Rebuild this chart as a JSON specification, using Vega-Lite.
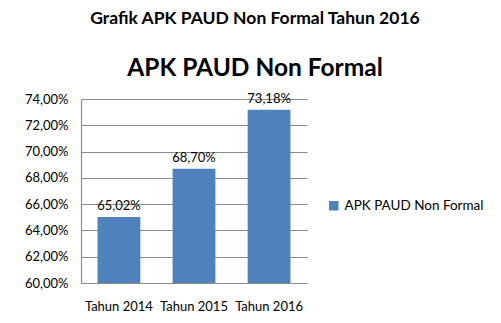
{
  "$schema": "https://vega.github.io/schema/vega-lite/v6.json",
  "autosize": {"type": "none"},
  "width": 226,
  "height": 184,
  "padding": {"left": 81, "top": 99, "right": 194, "bottom": 40},
  "background": "white",
  "title": {
    "text": "Grafik APK PAUD Non Formal Tahun 2016",
    "subtitle": "APK PAUD Non Formal",
    "anchor": "middle",
    "frame": "group",
    "dx": 61,
    "offset": 12,
    "font": "Lato",
    "fontSize": 17.5,
    "fontWeight": "bold",
    "color": "#000000",
    "subtitleFont": "Lato",
    "subtitleFontSize": 24.5,
    "subtitleFontWeight": "bold",
    "subtitleColor": "#000000",
    "subtitlePadding": 30
  },
  "data": {
    "values": [
      {"tahun": "Tahun 2014", "apk": 0.6502, "seri": "APK PAUD Non Formal"},
      {"tahun": "Tahun 2015", "apk": 0.687, "seri": "APK PAUD Non Formal"},
      {"tahun": "Tahun 2016", "apk": 0.7318, "seri": "APK PAUD Non Formal"}
    ]
  },
  "encoding": {
    "x": {
      "field": "tahun",
      "type": "nominal",
      "sort": null,
      "scale": {"paddingInner": 0.43, "paddingOuter": 0.22},
      "axis": {
        "title": null,
        "labelAngle": 0,
        "labelFont": "Lato",
        "labelFontSize": 13,
        "labelColor": "#000000",
        "labelPadding": 17,
        "ticks": false,
        "domainColor": "#8c8c8c",
        "domainWidth": 1.2
      }
    },
    "y": {
      "field": "apk",
      "type": "quantitative",
      "scale": {"domain": [0.6, 0.74], "zero": false, "nice": false},
      "axis": {
        "title": null,
        "format": ".2%",
        "values": [0.6, 0.62, 0.64, 0.66, 0.68, 0.7, 0.72, 0.74],
        "labelFont": "Lato",
        "labelFontSize": 13,
        "labelColor": "#000000",
        "labelPadding": 13,
        "ticks": false,
        "domainColor": "#8c8c8c",
        "domainWidth": 1.2,
        "grid": true,
        "gridColor": "#8c8c8c",
        "gridWidth": 1.2
      }
    }
  },
  "layer": [
    {
      "mark": {"type": "bar"},
      "encoding": {
        "y2": {"datum": 0.6},
        "color": {
          "field": "seri",
          "type": "nominal",
          "scale": {"range": ["#4f81bd"]},
          "legend": {
            "title": null,
            "orient": "none",
            "legendX": 246,
            "legendY": 100,
            "symbolType": "square",
            "symbolSize": 90,
            "symbolStrokeWidth": 0,
            "labelFont": "Lato",
            "labelFontSize": 13.5,
            "labelColor": "#000000",
            "labelOffset": 4
          }
        }
      }
    },
    {
      "mark": {"type": "text", "baseline": "bottom", "dy": -4, "font": "Lato", "fontSize": 13, "color": "#000000"},
      "encoding": {
        "text": {"field": "apk", "type": "quantitative", "format": ".2%"}
      }
    }
  ],
  "config": {
    "view": {"stroke": null},
    "locale": {
      "number": {"decimal": ",", "thousands": ".", "grouping": [3], "currency": ["", ""]}
    }
  }
}
